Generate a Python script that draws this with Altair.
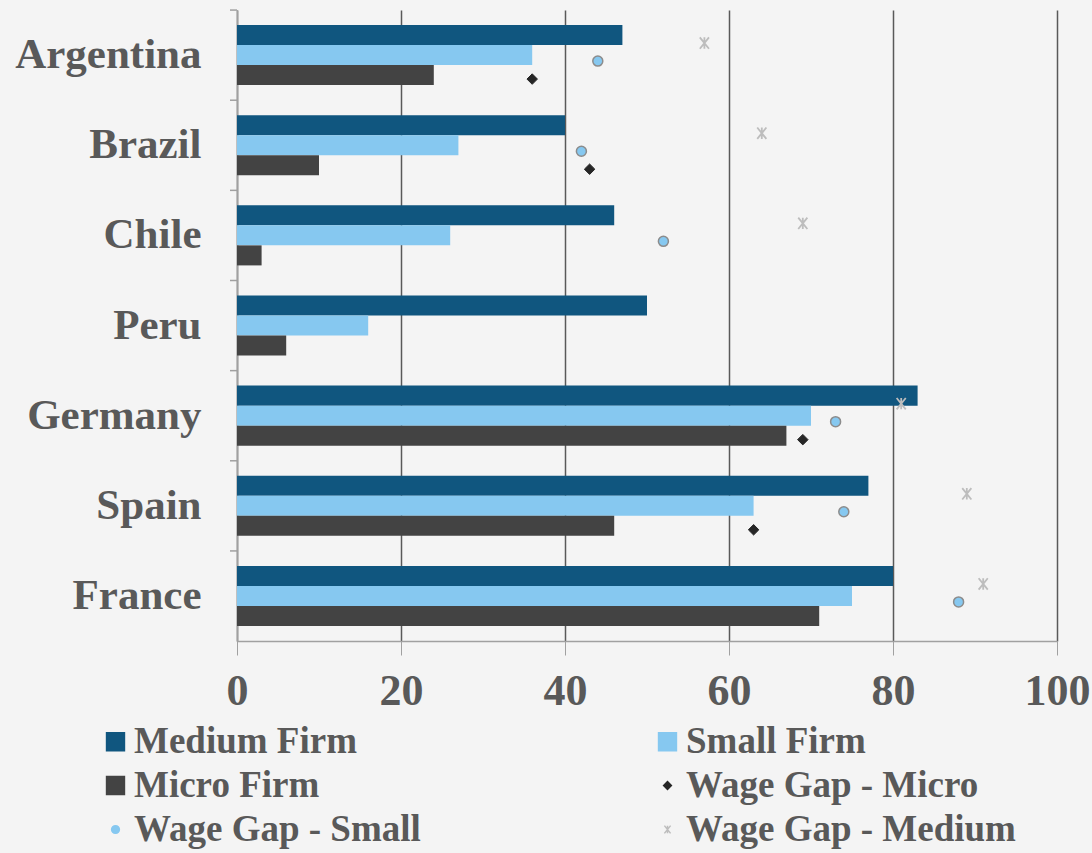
import altair as alt
import pandas as pd

countries = ["Argentina", "Brazil", "Chile", "Peru", "Germany", "Spain", "France"]
medium_firm = [47, 40, 46, 50, 83, 77, 80]
small_firm = [36, 27, 26, 16, 70, 63, 75]
micro_firm = [24, 10, 3, 6, 67, 46, 71]
gap_micro = [36, 43, None, None, 69, 63, None]
gap_small = [44, 42, 52, None, 73, 74, 88]
gap_medium = [57, 64, 69, None, 81, 89, 91]

series = ["Medium Firm", "Small Firm", "Micro Firm",
          "Wage Gap - Micro", "Wage Gap - Small", "Wage Gap - Medium"]
colors = ["#10567f", "#86c8f0", "#434343", "#262626", "#86c8f0", "#bdbdbd"]
asterisk = "M-0.8,-1L0.8,1M-0.8,1L0.8,-1M0,-1L0,1"
shapes = ["square", "square", "square", "diamond", "circle", asterisk]

bar_rows = []
for name, vals in [("Medium Firm", medium_firm), ("Small Firm", small_firm), ("Micro Firm", micro_firm)]:
    for c, v in zip(countries, vals):
        bar_rows.append({"country": c, "series": name, "value": v})
bars_df = pd.DataFrame(bar_rows)

def pts(name, vals):
    return pd.DataFrame([{"country": c, "series": name, "value": v}
                         for c, v in zip(countries, vals) if v is not None])

font = "Liberation Serif"
grey = "#595959"

legend = alt.Legend(
    title=None, orient="none", legendX=-140, legendY=713, columns=2,
    direction="horizontal", padding=0,
    columnPadding=228, rowPadding=6, labelFont=font, labelFontSize=37,
    labelFontWeight="bold", labelColor=grey, labelLimit=500, labelOffset=0,
    symbolSize={"expr": "indexof(['Medium Firm','Small Firm','Micro Firm'], datum.value) >= 0 ? 320 : 60"},
    symbolStrokeColor={"expr": "datum.value === 'Wage Gap - Small' ? '#8c8c8c' : scale('color', datum.value)"},
    symbolStrokeWidth=1.5,
)

color = alt.Color("series:N", scale=alt.Scale(domain=series, range=colors), legend=legend)
shape = alt.Shape("series:N", scale=alt.Scale(domain=series, range=shapes), legend=legend)

yenc = alt.Y("country:N", sort=countries, title=None,
             scale=alt.Scale(paddingInner=1/3, paddingOuter=1/6),
             axis=alt.Axis(labelFont=font, labelFontSize=43, labelFontWeight="bold",
                           labelColor=grey, ticks=False, labelPadding=36, labelLimit=400,
                           domainColor="#a0a0a0", domainWidth=1.5, grid=False))
xenc = alt.X("value:Q", title=None, scale=alt.Scale(domain=[0, 100], nice=False),
             axis=alt.Axis(values=[0, 20, 40, 60, 80, 100], labelFont=font, labelFontSize=44,
                           labelFontWeight="bold", labelColor=grey, tickSize=14,
                           tickColor="#a0a0a0", domainColor="#a0a0a0", domainWidth=1.5,
                           labelFlush=False, labelPadding=14,
                           grid=True, gridColor="#595959", gridWidth=1.5))

bars = alt.Chart(bars_df).mark_bar().encode(
    y=yenc, x=xenc,
    yOffset=alt.YOffset("series:N", sort=series[:3]),
    color=color,
)

ticks = alt.Chart(pd.DataFrame({"country": countries})).mark_rule(
    color="#a0a0a0", strokeWidth=1.5, yOffset=-45
).encode(y=alt.Y("country:N", sort=countries), x=alt.value(-7), x2=alt.value(0))

p_micro = alt.Chart(pts("Wage Gap - Micro", gap_micro)).mark_point(
    filled=True, size=110, yOffset=24, opacity=1, stroke="#262626", strokeWidth=1
).encode(y=alt.Y("country:N", sort=countries), x="value:Q", color=color, shape=shape)

p_small = alt.Chart(pts("Wage Gap - Small", gap_small)).mark_point(
    filled=True, size=100, yOffset=6, opacity=1, stroke="#8c8c8c", strokeWidth=1.5
).encode(y=alt.Y("country:N", sort=countries), x="value:Q", color=color, shape=shape)

p_medium = alt.Chart(pts("Wage Gap - Medium", gap_medium)).mark_point(
    filled=False, size=130, yOffset=-12, opacity=1, strokeWidth=1.8
).encode(y=alt.Y("country:N", sort=countries), x="value:Q", color=color, shape=shape)

chart = alt.layer(bars, ticks, p_micro, p_small, p_medium).properties(
    width=820, height=631,
    autosize=alt.AutoSizeParams(type="none"),
    padding={"left": 237, "top": 10, "right": 35, "bottom": 212},
    background="#f4f4f4",
).configure_view(stroke=None)

chart.save("out.html", embed_options={"renderer": "svg", "actions": False})
